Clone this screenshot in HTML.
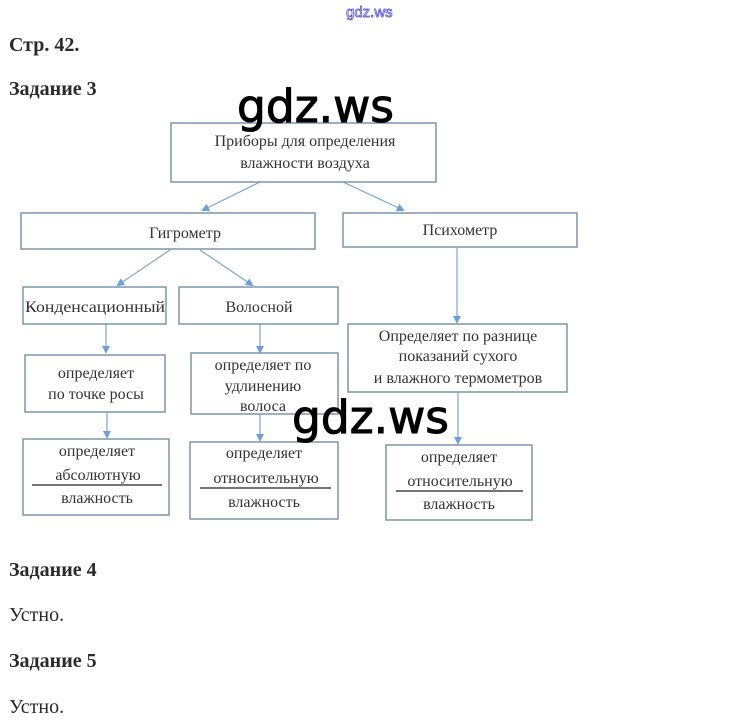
<!DOCTYPE html>
<html><head><meta charset="utf-8"><style>
html,body{margin:0;padding:0;background:#fff;width:748px;height:728px;overflow:hidden}
svg{display:block}
.s{font-family:"Liberation Serif",serif;fill:#2a2a2a}
.b{font-weight:bold}
.d{font-family:"Liberation Serif",serif;fill:#333;font-size:16px;text-anchor:middle}
.w{font-family:"DejaVu Sans","Liberation Sans",sans-serif;fill:#000;font-size:45px;stroke:#000;stroke-width:1}
rect{fill:#fff;stroke:#7c95ad;stroke-width:1.5}
line{stroke:#7ca6d6;stroke-width:1.2}
</style></head><body>
<svg width="748" height="728" viewBox="0 0 748 728">
<defs><marker id="a" markerWidth="8" markerHeight="8" refX="6" refY="4" orient="auto" markerUnits="userSpaceOnUse"><path d="M0,0 L8,4 L0,8 z" fill="#6f9fd8"/></marker></defs>
<text x="346" y="17" font-family="Liberation Sans,sans-serif" font-size="15" fill="none" stroke="#4444dd" stroke-width="0.7">gdz.ws</text>
<text x="9" y="51" class="s b" font-size="20">Стр. 42.</text>
<text x="9" y="95" class="s b" font-size="20">Задание 3</text>
<text x="9" y="576" class="s b" font-size="20">Задание 4</text>
<text x="9" y="621" class="s" font-size="20">Устно.</text>
<text x="9" y="667" class="s b" font-size="20">Задание 5</text>
<text x="9" y="713" class="s" font-size="20">Устно.</text>

<line x1="260" y1="182" x2="203" y2="210" marker-end="url(#a)"/>
<line x1="343" y1="182" x2="403" y2="210" marker-end="url(#a)"/>
<line x1="170" y1="250" x2="118" y2="285" marker-end="url(#a)"/>
<line x1="200" y1="250" x2="252" y2="285" marker-end="url(#a)"/>
<line x1="106" y1="324" x2="106" y2="352" marker-end="url(#a)"/>
<line x1="260" y1="324" x2="260" y2="352" marker-end="url(#a)"/>
<line x1="107" y1="412" x2="107" y2="437" marker-end="url(#a)"/>
<line x1="260" y1="414" x2="260" y2="440" marker-end="url(#a)"/>
<line x1="457" y1="248" x2="457" y2="322" marker-end="url(#a)"/>
<line x1="458" y1="392" x2="458" y2="443" marker-end="url(#a)"/>

<rect x="171" y="123" width="265" height="59"/>
<text class="d" x="305" y="146">Приборы для определения</text>
<text class="d" x="305" y="168">влажности воздуха</text>
<rect x="21" y="213" width="294" height="36"/>
<text class="d" x="185" y="238" font-size="18">Гигрометр</text>
<rect x="343" y="213" width="234" height="34"/>
<text class="d" x="460" y="235" font-size="17">Психометр</text>
<rect x="23" y="287" width="143" height="37"/>
<text class="d" x="95" y="312" font-size="16" textLength="140" lengthAdjust="spacingAndGlyphs">Конденсационный</text>
<rect x="179" y="287" width="159" height="37"/>
<text class="d" x="259" y="312" font-size="18">Волосной</text>
<rect x="25" y="355" width="140" height="57"/>
<text class="d" x="96" y="378">определяет</text>
<text class="d" x="96" y="399">по точке росы</text>
<rect x="191" y="353" width="147" height="61"/>
<text class="d" x="263" y="370">определяет по</text>
<text class="d" x="263" y="391">удлинению</text>
<text class="d" x="263" y="411">волоса</text>
<rect x="348" y="324" width="219" height="68"/>
<text class="d" x="458" y="341">Определяет по разнице</text>
<text class="d" x="458" y="361">показаний сухого</text>
<text class="d" x="458" y="383">и влажного термометров</text>
<rect x="23" y="439" width="146" height="76"/>
<text class="d" x="97" y="456">определяет</text>
<text class="d" x="98" y="480">абсолютную</text>
<line x1="32" y1="485" x2="162" y2="485" style="stroke:#222;stroke-width:1.3"/>
<text class="d" x="97" y="503">влажность</text>
<rect x="190" y="442" width="148" height="77"/>
<text class="d" x="264" y="458">определяет</text>
<text class="d" x="266" y="483">относительную</text>
<line x1="200" y1="488" x2="331" y2="488" style="stroke:#222;stroke-width:1.3"/>
<text class="d" x="264" y="507">влажность</text>
<rect x="386" y="445" width="146" height="75"/>
<text class="d" x="459" y="462">определяет</text>
<text class="d" x="460" y="486">относительную</text>
<line x1="396" y1="491" x2="523" y2="491" style="stroke:#222;stroke-width:1.3"/>
<text class="d" x="459" y="509">влажность</text>

<text class="w" x="237" y="122" textLength="157" lengthAdjust="spacingAndGlyphs">gdz.ws</text>
<text class="w" x="292" y="433" textLength="157" lengthAdjust="spacingAndGlyphs">gdz.ws</text>
</svg>
</body></html>
